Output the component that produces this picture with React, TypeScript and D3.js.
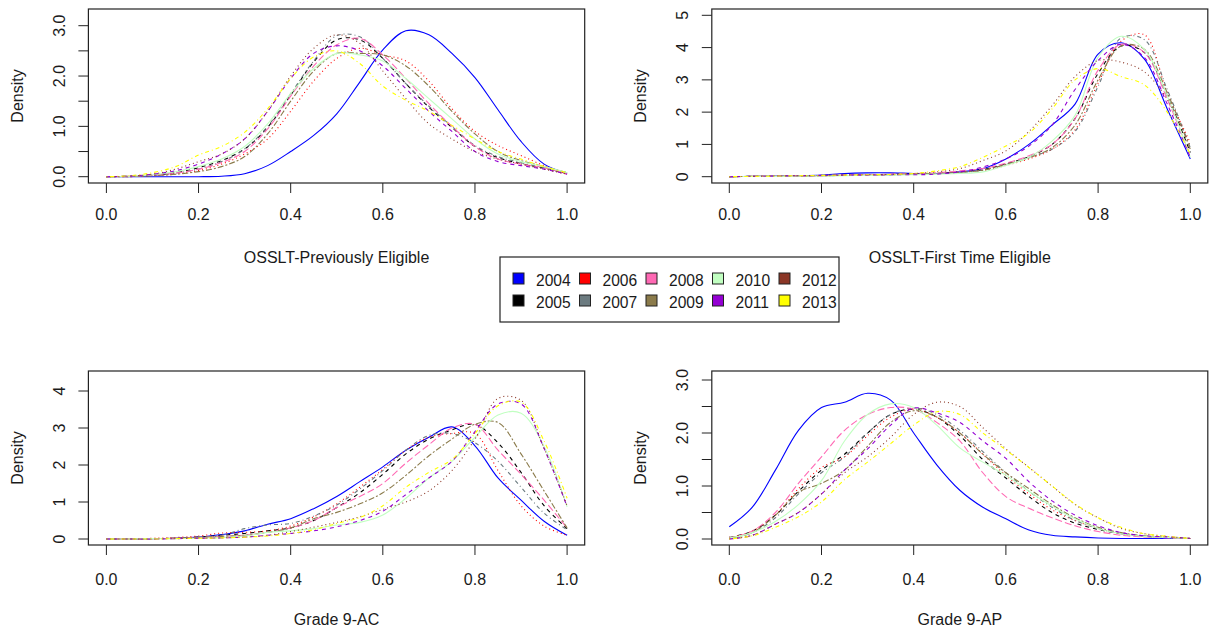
import React from 'react';
import * as d3 from 'd3';

const years = ['2004', '2005', '2006', '2007', '2008', '2009', '2010', '2011', '2012', '2013'];
const colors = ['#0000FF', '#000000', '#FF0000', '#6C7B80', '#FF69B4', '#8B7B4B', '#C1FFC1', '#9400D3', '#8B3626', '#FFFF00'];
const dashes = ['', '4,4', '1,3', '1,3,4,3', '7,3', '2,2,6,2', '', '4,4', '1,3', '1,3,4,3'];

const xGrid = [0, 0.05, 0.1, 0.15, 0.2, 0.25, 0.3, 0.35, 0.4, 0.45, 0.5, 0.55, 0.6, 0.65, 0.7, 0.75, 0.8, 0.85, 0.9, 0.95, 1.0];
const xTicks = [0, 0.2, 0.4, 0.6, 0.8, 1.0];

// OSSLT-Previously Eligible (rows: 2004..2013)
const prevEligible = [
  [0, 0, 0, 0, 0, 0.01, 0.06, 0.22, 0.5, 0.82, 1.25, 1.88, 2.52, 2.9, 2.82, 2.45, 1.97, 1.33, 0.7, 0.25, 0.07],
  [0, 0.01, 0.03, 0.08, 0.18, 0.32, 0.55, 0.98, 1.62, 2.28, 2.72, 2.72, 2.35, 1.85, 1.38, 0.98, 0.6, 0.38, 0.26, 0.17, 0.06],
  [0, 0, 0.02, 0.05, 0.12, 0.25, 0.45, 0.75, 1.3, 1.9, 2.35, 2.55, 2.42, 2.3, 1.9, 1.35, 0.9, 0.62, 0.42, 0.22, 0.05],
  [0, 0.01, 0.03, 0.07, 0.15, 0.3, 0.55, 1.0, 1.65, 2.3, 2.8, 2.78, 2.35, 1.85, 1.4, 1.0, 0.62, 0.4, 0.28, 0.18, 0.07],
  [0, 0.01, 0.03, 0.07, 0.15, 0.28, 0.5, 0.95, 1.6, 2.2, 2.62, 2.75, 2.42, 1.95, 1.45, 1.0, 0.6, 0.35, 0.25, 0.18, 0.06],
  [0, 0, 0.02, 0.05, 0.1, 0.2, 0.4, 0.85, 1.5, 2.1, 2.45, 2.45, 2.42, 2.2, 1.8, 1.3, 0.85, 0.5, 0.32, 0.2, 0.08],
  [0, 0.01, 0.04, 0.1, 0.2, 0.35, 0.6, 1.05, 1.65, 2.15, 2.45, 2.42, 2.3, 1.95, 1.55, 1.15, 0.75, 0.45, 0.3, 0.2, 0.08],
  [0, 0.01, 0.05, 0.12, 0.25, 0.45, 0.75, 1.3, 1.95, 2.45, 2.6, 2.5, 2.2, 1.75, 1.3, 0.9, 0.5, 0.3, 0.22, 0.15, 0.05],
  [0, 0.01, 0.05, 0.15, 0.3, 0.45, 0.75, 1.3, 2.0, 2.55, 2.82, 2.65, 2.1, 1.55, 1.05, 0.75, 0.5, 0.35, 0.25, 0.15, 0.05],
  [0, 0.02, 0.08, 0.2, 0.43, 0.6, 0.88, 1.35, 1.95, 2.38, 2.5, 2.25, 1.8, 1.52, 1.3, 1.02, 0.75, 0.5, 0.35, 0.2, 0.08],
];

// OSSLT-First Time Eligible
const firstEligible = [
  [0, 0.01, 0.02, 0.03, 0.05, 0.1, 0.12, 0.12, 0.1, 0.1, 0.15, 0.25, 0.55, 1.0, 1.6, 2.25, 3.8, 4.15, 3.65, 2.1, 0.55],
  [0, 0.01, 0.01, 0.02, 0.03, 0.05, 0.06, 0.07, 0.08, 0.1, 0.15, 0.22, 0.4, 0.62, 1.0, 1.8, 3.2, 4.05, 3.85, 2.5, 0.75],
  [0, 0.01, 0.01, 0.02, 0.03, 0.04, 0.05, 0.06, 0.08, 0.1, 0.14, 0.2, 0.35, 0.55, 0.85, 1.45, 2.9, 4.2, 4.4, 2.6, 1.05],
  [0, 0.01, 0.01, 0.02, 0.03, 0.04, 0.05, 0.06, 0.08, 0.1, 0.13, 0.2, 0.38, 0.6, 0.85, 1.4, 2.8, 4.3, 4.25, 2.7, 0.9],
  [0, 0.01, 0.01, 0.02, 0.03, 0.05, 0.06, 0.08, 0.1, 0.12, 0.18, 0.25, 0.42, 0.65, 1.0, 1.8, 3.3, 4.1, 3.85, 2.4, 0.65],
  [0, 0.01, 0.01, 0.02, 0.03, 0.04, 0.05, 0.06, 0.08, 0.1, 0.14, 0.2, 0.38, 0.58, 0.9, 1.6, 3.0, 4.05, 3.95, 2.6, 0.85],
  [0, 0.01, 0.01, 0.02, 0.02, 0.03, 0.04, 0.05, 0.06, 0.08, 0.1, 0.15, 0.35, 0.6, 1.1, 1.9, 3.7, 4.35, 3.95, 2.5, 0.6],
  [0, 0.01, 0.02, 0.03, 0.04, 0.05, 0.05, 0.06, 0.06, 0.08, 0.15, 0.3, 0.55, 0.95, 1.6, 2.7, 3.6, 4.1, 3.7, 2.25, 0.6],
  [0, 0.01, 0.02, 0.03, 0.04, 0.05, 0.06, 0.07, 0.1, 0.15, 0.25, 0.5, 0.8, 1.4, 2.2, 3.1, 3.6, 3.55, 3.25, 2.4, 0.95],
  [0, 0.01, 0.02, 0.03, 0.04, 0.05, 0.06, 0.07, 0.1, 0.18, 0.31, 0.6, 0.95, 1.35, 2.1, 3.0, 3.35, 3.1, 2.85, 2.0, 0.7],
];

// Grade 9-AC
const grade9AC = [
  [0, 0, 0.01, 0.02, 0.05, 0.12, 0.22, 0.4, 0.55, 0.82, 1.15, 1.55, 1.95, 2.4, 2.75, 3.03, 2.52, 1.65, 1.05, 0.48, 0.1],
  [0, 0, 0.01, 0.02, 0.05, 0.1, 0.15, 0.22, 0.3, 0.5, 0.85, 1.25, 1.75, 2.3, 2.7, 2.95, 3.1, 2.6, 1.8, 0.9, 0.28],
  [0, 0, 0.02, 0.04, 0.08, 0.16, 0.18, 0.22, 0.35, 0.6, 0.95, 1.4, 1.88, 2.4, 2.75, 2.85, 2.85, 1.85, 0.9, 0.35, 0.1],
  [0, 0, 0.01, 0.02, 0.05, 0.1, 0.28, 0.38, 0.42, 0.62, 0.92, 1.35, 1.85, 2.4, 2.8, 2.85, 2.6, 2.1, 1.4, 0.7, 0.25],
  [0, 0, 0.01, 0.02, 0.04, 0.07, 0.1, 0.18, 0.3, 0.5, 0.85, 1.15, 1.5, 2.05, 2.55, 3.0, 3.1, 2.4, 1.75, 1.05, 0.3],
  [0, 0, 0.01, 0.02, 0.04, 0.07, 0.1, 0.18, 0.3, 0.55, 0.72, 0.95, 1.25, 1.72, 2.25, 2.7, 3.1, 3.15, 2.3, 1.3, 0.3],
  [0, 0, 0.01, 0.01, 0.02, 0.04, 0.08, 0.18, 0.22, 0.28, 0.38, 0.45, 0.65, 1.1, 1.65, 2.1, 2.75, 3.35, 3.4, 2.5, 0.87],
  [0, 0, 0, 0.01, 0.02, 0.03, 0.05, 0.1, 0.15, 0.22, 0.33, 0.5, 0.75, 1.2, 1.65, 2.1, 2.9, 3.65, 3.65, 2.45, 0.87],
  [0, 0, 0, 0.01, 0.02, 0.03, 0.05, 0.1, 0.2, 0.32, 0.45, 0.6, 0.8, 1.0, 1.3, 1.85, 2.7, 3.8, 3.75, 2.45, 0.9],
  [0, 0, 0, 0.01, 0.02, 0.03, 0.05, 0.08, 0.15, 0.25, 0.42, 0.58, 0.9, 1.4, 1.8, 2.15, 2.85, 3.6, 3.7, 2.65, 1.1],
];

// Grade 9-AP
const grade9AP = [
  [0.23, 0.6, 1.3, 2.05, 2.48, 2.58, 2.75, 2.62, 2.0, 1.4, 0.92, 0.6, 0.38, 0.17, 0.07, 0.04, 0.02, 0.01, 0.01, 0.01, 0.01],
  [0.03, 0.15, 0.45, 0.9, 1.3, 1.6, 2.0, 2.35, 2.45, 2.3, 1.95, 1.5, 1.15, 0.8, 0.5, 0.3, 0.18, 0.1, 0.05, 0.03, 0.01],
  [0.03, 0.15, 0.45, 0.95, 1.35, 1.55, 1.95, 2.3, 2.45, 2.3, 2.0, 1.6, 1.2, 0.85, 0.55, 0.35, 0.2, 0.1, 0.05, 0.03, 0.01],
  [0.02, 0.12, 0.4, 0.85, 1.25, 1.55, 2.0, 2.35, 2.47, 2.35, 2.05, 1.65, 1.25, 0.9, 0.6, 0.35, 0.2, 0.1, 0.05, 0.03, 0.01],
  [0.02, 0.15, 0.5, 1.05, 1.55, 2.05, 2.35, 2.48, 2.45, 2.2, 1.85, 1.25, 0.8, 0.58, 0.4, 0.25, 0.14, 0.07, 0.04, 0.02, 0.01],
  [0.02, 0.12, 0.45, 0.88, 1.05, 1.3, 1.75, 2.2, 2.42, 2.3, 2.0, 1.6, 1.25, 0.95, 0.65, 0.4, 0.22, 0.12, 0.06, 0.03, 0.01],
  [0.02, 0.12, 0.33, 0.65, 1.1, 1.85, 2.35, 2.55, 2.48, 2.15, 1.72, 1.45, 1.2, 0.9, 0.62, 0.38, 0.2, 0.1, 0.05, 0.03, 0.01],
  [0, 0.07, 0.28, 0.5, 0.85, 1.3, 1.7, 2.15, 2.47, 2.38, 2.2, 1.85, 1.52, 1.08, 0.72, 0.45, 0.25, 0.12, 0.06, 0.04, 0.01],
  [0, 0.07, 0.28, 0.5, 0.85, 1.25, 1.55, 1.92, 2.35, 2.58, 2.5, 2.1, 1.7, 1.35, 1.0, 0.65, 0.4, 0.2, 0.1, 0.05, 0.01],
  [0, 0.06, 0.22, 0.42, 0.7, 1.12, 1.45, 1.8, 2.15, 2.4, 2.35, 2.0, 1.68, 1.35, 1.0, 0.66, 0.4, 0.22, 0.1, 0.05, 0.01],
];

const ticksHalf = [0, 0.5, 1, 1.5, 2, 2.5, 3];
const labelsHalf = [0, 1, 2, 3];
const ticks0to5 = [0, 1, 2, 3, 4, 5];
const ticks0to4 = [0, 1, 2, 3, 4];

const FONT = "'Liberation Sans', Arial, Helvetica, sans-serif";
const TXT = '#1a1a1a';

function Txt({ x, y, rot, anchor, size, children }: any) {
  return (
    <text
      transform={`translate(${x},${y})${rot ? ' rotate(-90)' : ''}`}
      textAnchor={anchor || 'middle'}
      fontSize={size}
      fontFamily={FONT}
      fill={TXT}
    >
      {children}
    </text>
  );
}

const panels = [
  {
    title: 'OSSLT-Previously Eligible', data: prevEligible,
    box: [88.4, 584.7, 9, 183], xr: [106.4, 567.1], yd: [0, 3], yr: [176.7, 25.7],
    yTicks: ticksHalf, yLabels: labelsHalf, fmt: '.1f',
    tickBase: 220, titleBase: 263, densX: 23, yLabX: 65,
  },
  {
    title: 'OSSLT-First Time Eligible', data: firstEligible,
    box: [711.8, 1207.8, 9, 183], xr: [729.3, 1190.3], yd: [0, 5], yr: [176.7, 15.3],
    yTicks: ticks0to5, yLabels: ticks0to5, fmt: 'd',
    tickBase: 220, titleBase: 263, densX: 646, yLabX: 688,
  },
  {
    title: 'Grade 9-AC', data: grade9AC,
    box: [88.4, 584.7, 371, 545], xr: [106.4, 567.1], yd: [0, 4], yr: [539, 391],
    yTicks: ticks0to4, yLabels: ticks0to4, fmt: 'd',
    tickBase: 585, titleBase: 625, densX: 23, yLabX: 65,
  },
  {
    title: 'Grade 9-AP', data: grade9AP,
    box: [711.8, 1207.8, 371, 545], xr: [729.3, 1190.3], yd: [0, 3], yr: [539, 380],
    yTicks: ticksHalf, yLabels: labelsHalf, fmt: '.1f',
    tickBase: 585, titleBase: 625, densX: 646, yLabX: 688,
  },
];

function Panel({ p }: any) {
  const [bx0, bx1, by0, by1] = p.box;
  const x = d3.scaleLinear().domain([0, 1]).range(p.xr);
  const y = d3.scaleLinear().domain(p.yd).range(p.yr);
  const line = d3
    .line<number>()
    .x((_, i) => x(xGrid[i]))
    .y((v) => y(v))
    .curve(d3.curveCatmullRom.alpha(0.5));
  const fx = d3.format('.1f');
  const fy = d3.format(p.fmt);
  return (
    <g>
      {p.data.map((row: number[], i: number) => (
        <path
          key={years[i]}
          d={line(row) || ''}
          fill="none"
          stroke={colors[i]}
          strokeWidth={1.1}
          strokeDasharray={dashes[i] || undefined}
        />
      ))}
      <rect x={bx0} y={by0} width={bx1 - bx0} height={by1 - by0} fill="none" stroke="#222" strokeWidth={1.2} />
      {xTicks.map((t) => (
        <g key={'x' + t}>
          <line x1={x(t)} x2={x(t)} y1={by1} y2={by1 + 10} stroke="#222" />
          <Txt x={x(t)} y={p.tickBase} size={16}>{fx(t)}</Txt>
        </g>
      ))}
      {p.yTicks.map((t: number) => (
        <line key={'y' + t} x1={bx0 - 10} x2={bx0} y1={y(t)} y2={y(t)} stroke="#222" />
      ))}
      {p.yLabels.map((t: number) => (
        <Txt key={'yl' + t} x={p.yLabX} y={y(t)} rot size={16}>{fy(t)}</Txt>
      ))}
      <Txt x={(bx0 + bx1) / 2} y={p.titleBase} size={16}>{p.title}</Txt>
      <Txt x={p.densX} y={(by0 + by1) / 2} rot size={16}>Density</Txt>
    </g>
  );
}

function Legend() {
  const colX = [513, 579.5, 646, 712.5, 779];
  const rowY = [273, 295];
  return (
    <g>
      <rect x={500} y={257} width={339} height={65} fill="#fff" stroke="#222" strokeWidth={1.2} />
      {years.map((yr, i) => {
        const c = Math.floor(i / 2);
        const r = i % 2;
        return (
          <g key={yr}>
            <rect x={colX[c]} y={rowY[r]} width={11} height={11} fill={colors[i]} stroke="#222" strokeWidth={1} />
            <Txt x={colX[c] + 23} y={rowY[r] + 12.5} anchor="start" size={15.6}>{yr}</Txt>
          </g>
        );
      })}
    </g>
  );
}

export default function App() {
  return (
    <svg
      width={1209}
      height={631}
      style={{ position: 'absolute', left: 0, top: 0, background: '#fff' }}
    >
      <rect width={1209} height={631} fill="#fff" />
      {panels.map((p) => (
        <Panel key={p.title} p={p} />
      ))}
      <Legend />
    </svg>
  );
}
